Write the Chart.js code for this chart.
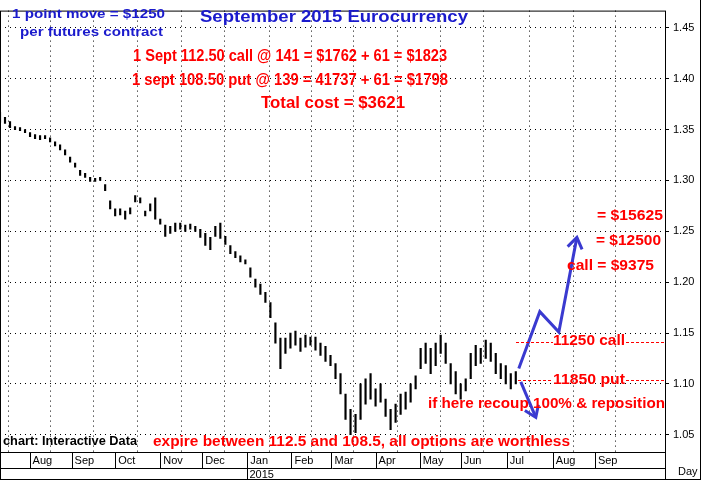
<!DOCTYPE html>
<html><head><script src="https://cdn.jsdelivr.net/npm/chart.js"></script>
<style>body{margin:0;background:#fff}#w{width:701px;height:480px}</style></head>
<body><div id="w"><canvas id="c"></canvas></div>
<script>
const lows=[1.357,1.356,1.352,1.350,1.349,1.347,1.343,1.341,1.340,1.341,1.338,1.334,1.330,1.325,1.318,1.313,1.305,1.303,1.299,1.299,1.300,1.290,1.272,1.265,1.266,1.262,1.267,1.279,1.278,1.265,1.270,1.262,1.257,1.245,1.248,1.250,1.252,1.250,1.252,1.250,1.244,1.236,1.232,1.245,1.243,1.237,1.228,1.224,1.220,1.218,1.205,1.195,1.188,1.180,1.165,1.140,1.115,1.130,1.135,1.138,1.132,1.136,1.138,1.133,1.128,1.122,1.118,1.105,1.090,1.065,1.050,1.052,1.065,1.080,1.085,1.078,1.082,1.068,1.055,1.062,1.070,1.075,1.082,1.095,1.115,1.120,1.110,1.118,1.130,1.120,1.100,1.090,1.085,1.093,1.105,1.118,1.120,1.125,1.122,1.110,1.105,1.100,1.095,1.100];
const highs=[1.367,1.362,1.358,1.353,1.352,1.350,1.347,1.345,1.344,1.344,1.342,1.338,1.335,1.330,1.323,1.317,1.310,1.307,1.303,1.302,1.303,1.296,1.280,1.272,1.272,1.270,1.273,1.285,1.283,1.270,1.277,1.283,1.262,1.256,1.255,1.258,1.258,1.256,1.257,1.255,1.252,1.248,1.244,1.255,1.258,1.245,1.236,1.230,1.226,1.222,1.214,1.203,1.198,1.190,1.180,1.160,1.145,1.145,1.150,1.152,1.145,1.148,1.146,1.146,1.140,1.137,1.128,1.120,1.110,1.090,1.075,1.070,1.100,1.105,1.110,1.095,1.100,1.085,1.075,1.080,1.090,1.092,1.100,1.108,1.135,1.140,1.135,1.140,1.148,1.140,1.120,1.112,1.100,1.105,1.130,1.138,1.135,1.143,1.140,1.130,1.120,1.118,1.110,1.112];
const monthLabels=['Aug','Sep','Oct','Nov','Dec','Jan','Feb','Mar','Apr','May','Jun','Jul','Aug','Sep'];
const monthStarts=[5.9,14.3,23,32,40.4,49.4,58.2,66.2,75,83.8,92,101.2,110.4,118.8];
const yTicks=[1.05,1.10,1.15,1.20,1.25,1.30,1.35,1.40,1.45];
const upArrow=[[103.6,1.115],[107.8,1.171],[111.6,1.151],[115.2,1.244]];
const downArrow=[[104,1.102],[107,1.067]];
const XMAX=132.8;
const bars=lows.map((l,i)=>({x:i,y:[l,highs[i]]}));
const F='"Liberation Sans", Arial, sans-serif';
const W='"DejaVu Sans", Verdana, sans-serif';
const deco={id:'deco',afterDraw(ch){
 const c=ch.ctx,x=ch.scales.x,y=ch.scales.y,a=ch.chartArea;
 c.save();
 c.strokeStyle='#000';c.lineWidth=1;c.strokeRect(a.left+0.5,a.top+0.5,a.right-a.left,a.bottom-a.top);
 const b=a.bottom;c.beginPath();
 c.moveTo(0,b+16.5);c.lineTo(a.right,b+16.5);c.moveTo(0,479.5);c.lineTo(701,479.5);
 monthStarts.forEach(m=>{const px=Math.round(x.getPixelForValue(m))+0.5;c.moveTo(px,b);c.lineTo(px,b+16);});
 const jp=Math.round(x.getPixelForValue(monthStarts[5]))+0.5;c.moveTo(jp,b+16);c.lineTo(jp,480);
 c.moveTo(a.right+0.5,b);c.lineTo(a.right+0.5,480);c.moveTo(0.5,b);c.lineTo(0.5,480);c.moveTo(700.5,0);c.lineTo(700.5,480);
 c.stroke();
 c.fillStyle='#000';c.font='11px '+F;c.textBaseline='middle';
 monthLabels.forEach((t,i)=>c.fillText(t,x.getPixelForValue(monthStarts[i])+3,b+9));
 c.fillText('2015',jp+2,b+23);c.fillText('Day',678,b+20);
 c.strokeStyle='#3a3ad0';c.lineWidth=3;c.lineJoin='miter';
 const P=p=>[x.getPixelForValue(p[0]),y.getPixelForValue(p[1])];
 function arr(pts){c.beginPath();pts.forEach((p,i)=>{const q=P(p);i?c.lineTo(q[0],q[1]):c.moveTo(q[0],q[1]);});c.stroke();
  const e=P(pts[pts.length-1]),s=P(pts[pts.length-2]);const ang=Math.atan2(e[1]-s[1],e[0]-s[0]);
  c.beginPath();c.moveTo(e[0]-13*Math.cos(ang-0.6),e[1]-13*Math.sin(ang-0.6));c.lineTo(e[0],e[1]);c.lineTo(e[0]-13*Math.cos(ang+0.6),e[1]-13*Math.sin(ang+0.6));c.stroke();}
 arr(upArrow);arr(downArrow);
 c.strokeStyle='#f00';c.lineWidth=1;
 function dash(x1,x2,yy){c.beginPath();for(let xx=x1;xx<x2;xx+=5){c.moveTo(xx,yy+0.5);c.lineTo(Math.min(xx+3,x2),yy+0.5);}c.stroke();}
 dash(516,553,342);dash(626,665,342);dash(518,553,380);dash(626,665,380);
 c.textBaseline='middle';c.textAlign='left';
 function fit(t,x1,x2,yy,fam,sz,col){c.font='bold '+sz+'px '+fam;const w=c.measureText(t).width;
  c.save();c.translate(x1,yy);c.scale((x2-x1)/w,1);c.fillStyle=col;c.fillText(t,0,0);c.restore();}
 const B='#1a1acc',R='#f00';
 fit('September 2015 Eurocurrency',200,468,18,F,16,B);
 fit('1 point move = $1250',12,165,14,F,13,B);
 fit('per futures contract',20,163,32,F,13,B);
 fit('1 Sept 112.50 call @ 141 = $1762 + 61 = $1823',133,447,57,F,16,R);
 fit('1 sept 108.50 put @ 139 = 41737 + 61 = $1798',132,448,81,F,16,R);
 fit('Total cost = $3621',261,405,104,F,16,R);
 fit('= $15625',597,663,216,F,14,R);
 fit('= $12500',596,661,241,F,14,R);
 fit('call = $9375',567,654,266,F,14,R);
 fit('11250 call',553,625,341,F,14,R);
 fit('11850 put',553,625,380,F,14,R);
 fit('if here recoup 100% & reposition',428,665,404,F,14,R);
 fit('expire between 112.5 and 108.5, all options are worthless',153,570,442,F,14,R);
 fit('chart: Interactive Data',3,137,442,F,12,'#000');
 c.restore();}};
new Chart(document.getElementById('c'),{type:'bar',
 data:{datasets:[{data:bars,backgroundColor:'#000',barThickness:1.5,grouped:false}]},
 options:{responsive:true,maintainAspectRatio:false,animation:false,events:[],
  layout:{padding:{top:0,bottom:28,left:0,right:0}},
  plugins:{legend:{display:false},tooltip:{enabled:false}},
  scales:{
   x:{type:'linear',min:0,max:XMAX,offset:false,afterBuildTicks(s){s.ticks=monthStarts.map(v=>({value:v}));},
      ticks:{display:false},border:{display:false,dash:[1,4]},grid:{color:'#000',lineWidth:1,tickLength:0}},
   y:{position:'right',min:1.033,max:1.467,afterBuildTicks(s){s.ticks=yTicks.map(v=>({value:v}));},
      afterFit(s){s.width=36;},
      ticks:{color:'#000',font:{size:11,family:F},padding:4,callback:v=>v.toFixed(2)},
      border:{display:false,dash:[1,4]},grid:{color:'#000',lineWidth:1,tickLength:4}}}},
 plugins:[deco]});
</script></body></html>
